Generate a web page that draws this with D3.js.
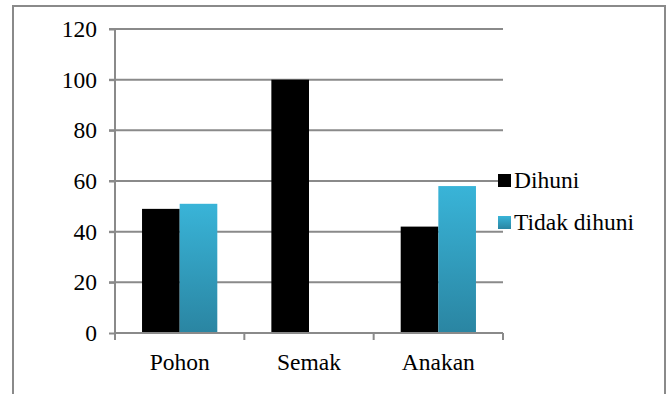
<!DOCTYPE html>
<html><head><meta charset="utf-8">
<script src="https://cdn.jsdelivr.net/npm/d3@7"></script>
<style>
html,body{margin:0;padding:0;background:#fff;}
svg{display:block;}
svg text{font-family:"Liberation Serif","Times New Roman",serif;fill:#000;}
</style></head>
<body>
<svg id="chart" width="671" height="394"></svg>
<script>
const categories = ["Pohon", "Semak", "Anakan"];
const seriesNames = ["Dihuni", "Tidak dihuni"];
const dihuni = [49, 100, 42];
const tidakDihuni = [51, 0, 58];
const yTicks = [0, 20, 40, 60, 80, 100, 120];

(function () {
const svg = d3.select("#chart");
const W = 671, H = 394;
const pLeft = 115, pRight = 503, pTop = 29, pBottom = 333;
const fontSize = 23.5;
const grey = "#8a8a8a";

// outer frame
svg.append("path")
  .attr("d", `M13,${H+2}V6H665V${H+2}`)
  .attr("fill", "none").attr("stroke", grey).attr("stroke-width", 2);

const defs = svg.append("defs");
const grad = defs.append("linearGradient").attr("id", "blueGrad")
  .attr("x1", 0).attr("y1", 0).attr("x2", 0).attr("y2", 1);
grad.append("stop").attr("offset", "0%").attr("stop-color", "#39b4d8");
grad.append("stop").attr("offset", "100%").attr("stop-color", "#2a85a2");

const y = d3.scaleLinear().domain([0, 120]).range([pBottom, pTop]);
const x0 = d3.scaleBand().domain(categories).range([pLeft, pRight]).paddingInner(0.418).paddingOuter(0.209);
const x1 = d3.scaleBand().domain(seriesNames).range([0, x0.bandwidth()]);
const color = d3.scaleOrdinal().domain(seriesNames).range(["#000000", "url(#blueGrad)"]);

// gridlines
svg.append("g").selectAll("line").data(yTicks.filter(d => d > 0)).join("line")
  .attr("x1", pLeft - 6).attr("x2", pRight)
  .attr("y1", d => y(d)).attr("y2", d => y(d))
  .attr("stroke", grey).attr("stroke-width", 2);

// y axis
const yAxis = svg.append("g").attr("transform", `translate(${pLeft},0)`)
  .call(d3.axisLeft(y).tickValues(yTicks).tickSize(6).tickPadding(12));
yAxis.attr("font-family", null).attr("font-size", null);
yAxis.select(".domain").attr("stroke", grey).attr("stroke-width", 2).attr("d", `M0,${pTop}V${pBottom}`);
yAxis.selectAll(".tick line").attr("stroke", grey).attr("stroke-width", 2);
yAxis.selectAll("text").attr("font-size", fontSize).attr("fill", "#000");

// bars
const data = categories.map((c, i) => ({cat: c, vals: [dihuni[i], tidakDihuni[i]]}));
const groups = svg.append("g").selectAll("g").data(data).join("g")
  .attr("transform", d => `translate(${x0(d.cat)},0)`);
groups.selectAll("rect").data(d => d.vals.map((v, j) => ({name: seriesNames[j], v})).filter(d => d.v > 0)).join("rect")
  .attr("x", d => x1(d.name)).attr("width", x1.bandwidth())
  .attr("y", d => y(d.v)).attr("height", d => y(0) - y(d.v))
  .attr("fill", d => color(d.name));

// x axis
const xAxis = svg.append("g").attr("transform", `translate(0,${pBottom})`)
  .call(d3.axisBottom(x0).tickSize(0).tickPadding(20));
xAxis.attr("font-family", null).attr("font-size", null);
xAxis.select(".domain").attr("stroke", grey).attr("stroke-width", 2)
  .attr("d", `M${pLeft},0H${pRight}`);
xAxis.selectAll("text").attr("font-size", fontSize).attr("fill", "#000");
const step = x0.step();
svg.append("g").selectAll("line").data(d3.range(categories.length + 1)).join("line")
  .attr("x1", i => pLeft + i * step).attr("x2", i => pLeft + i * step)
  .attr("y1", pBottom).attr("y2", pBottom + 7)
  .attr("stroke", grey).attr("stroke-width", 2);

// legend
const legend = svg.append("g").selectAll("g").data(seriesNames).join("g")
  .attr("transform", (d, i) => `translate(498,${174 + i * 42})`);
legend.append("rect").attr("width", 13).attr("height", 13).attr("fill", d => color(d));
legend.append("text").attr("x", 16).attr("y", 13.5).attr("font-size", fontSize).text(d => d);
})();
</script>
</body></html>
